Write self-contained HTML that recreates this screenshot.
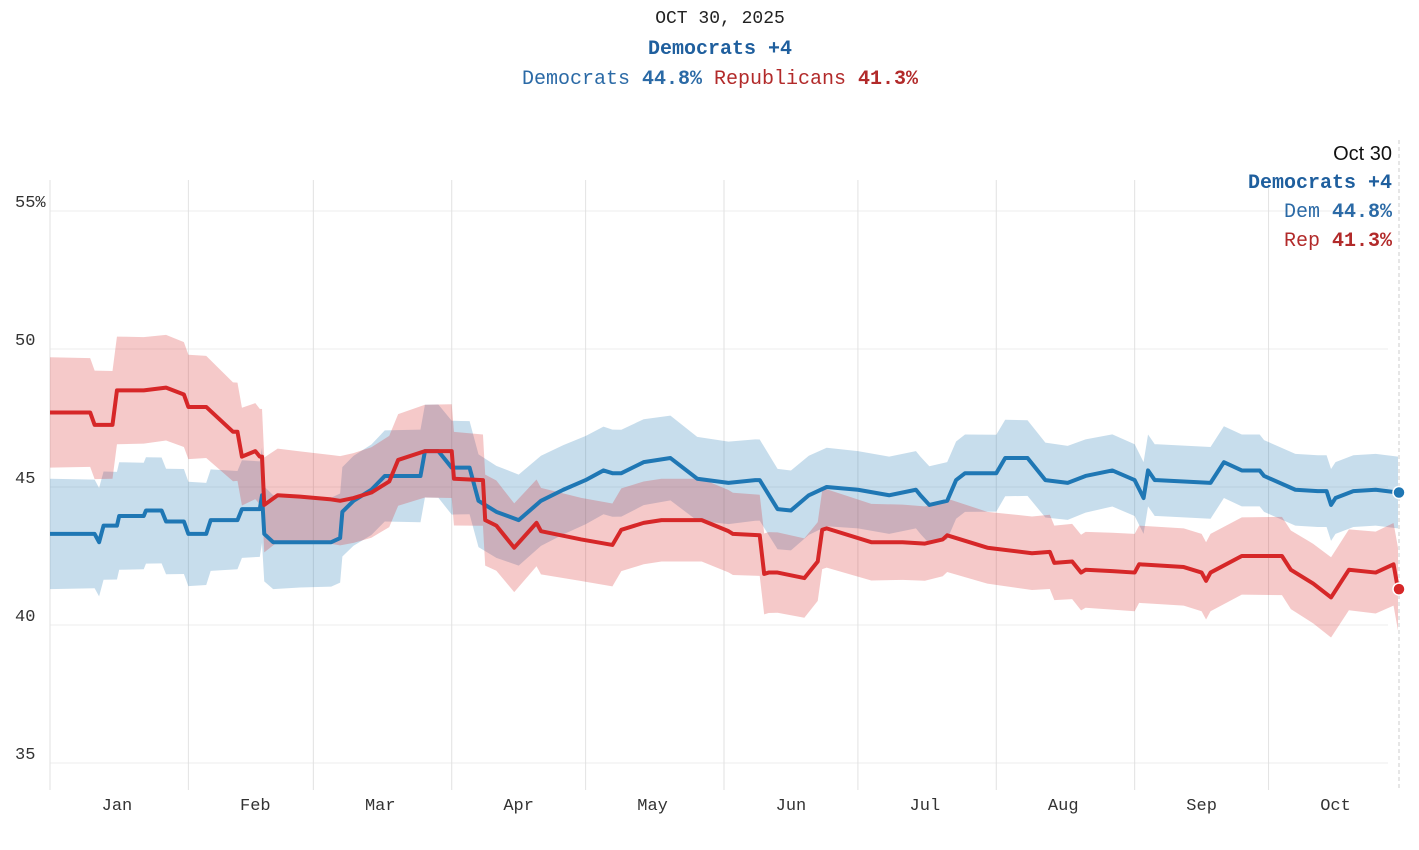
<!DOCTYPE html>
<html><head><meta charset="utf-8">
<style>
html,body{margin:0;padding:0;background:#fff;}
body{width:1419px;height:850px;overflow:hidden;position:relative;font-family:"Liberation Mono",monospace;}
.hdr{position:absolute;left:0;width:1440px;text-align:center;}
</style></head>
<body>
<div class="hdr" style="top:9px;font-size:18px;color:#222;">OCT 30, 2025</div>
<div class="hdr" style="top:38px;font-size:20px;font-weight:bold;color:#1f5f9e;">Democrats +4</div>
<div class="hdr" style="top:68px;font-size:20px;"><span style="color:#2b6aa6">Democrats <b>44.8%</b></span> <span style="color:#b22a2a">Republicans <b>41.3%</b></span></div>
<svg id="chart" width="1419" height="850" style="position:absolute;left:0;top:0;" xmlns="http://www.w3.org/2000/svg"></svg>
<div style="position:absolute;right:27px;top:140px;text-align:right;font-size:20px;line-height:29px;">
<div style="font-family:'Liberation Sans',sans-serif;color:#111;">Oct 30</div>
<div style="color:#1f5f9e;font-weight:bold;">Democrats +4</div>
<div style="color:#2b6aa6;">Dem <b>44.8%</b></div>
<div style="color:#b22a2a;">Rep <b>41.3%</b></div>
</div>
<script>
const monthLabels=["Jan","Feb","Mar","Apr","May","Jun","Jul","Aug","Sep","Oct"];
const monthStarts=[0,31,59,90,120,151,181,212,243,273];
const yTicks=[35,40,45,50,55];
const demDays=[0,10,11,12,15,15.5,21,21.5,25,26,30,31,35,36,42,43,47,47.5,48,50,56,63,65,65.5,68,72,75,79,83,84,87,90,90.5,92,94,96,100,105,110,115,120,124,126,128,133,139,145,152,158,159,163,166,170,174,181,188,194,195,197,201,203,205,212,214,219,223,228,232,238,243,245,246,247.5,248,260,263,267,271,272,279,284,286,287,288,292,297,302];
const demVals=[43.3,43.3,43.0,43.6,43.6,43.95,43.95,44.15,44.15,43.75,43.75,43.3,43.3,43.8,43.8,44.2,44.2,44.7,43.3,43.0,43.0,43.0,43.15,44.1,44.5,44.9,45.4,45.4,45.4,46.3,46.3,45.7,45.7,45.7,45.7,44.5,44.1,43.8,44.5,44.9,45.25,45.6,45.5,45.5,45.9,46.05,45.3,45.15,45.25,45.25,44.2,44.15,44.7,45.0,44.9,44.7,44.9,44.7,44.35,44.5,45.25,45.5,45.5,46.05,46.05,45.25,45.15,45.4,45.6,45.25,44.6,45.6,45.25,45.25,45.15,45.9,45.6,45.6,45.4,44.9,44.85,44.85,44.35,44.6,44.85,44.9,44.8];
const repDays=[0,9,10,14,15,21,26,30,31,35,41,42,43,46,47,47.5,48,51,56,63,65,68,72,76,78,84,90,90.5,97,97.5,100,102,104,109,110,119,126,128,133,137,146,152,153,159,160,161,163,169,172,173,174,184,191,196,200,201,210,220,224,225,229,231,232,238,243,244,254,258,259,260,267,276,278,282,283,287,289,291,297,301,302];
const repVals=[47.7,47.7,47.25,47.25,48.5,48.5,48.6,48.35,47.9,47.9,47.0,47.0,46.1,46.3,46.1,46.1,44.35,44.7,44.65,44.55,44.5,44.6,44.8,45.2,45.98,46.3,46.3,45.3,45.25,43.8,43.6,43.2,42.8,43.7,43.4,43.1,42.9,43.45,43.7,43.8,43.8,43.4,43.3,43.25,41.85,41.9,41.9,41.7,42.3,43.45,43.5,43.0,43.0,42.95,43.1,43.25,42.8,42.6,42.65,42.25,42.3,41.9,42.0,41.95,41.9,42.2,42.1,41.9,41.6,41.9,42.5,42.5,42.0,41.6,41.5,41.0,41.5,42.0,41.9,42.2,41.3];
const spreadDays=[0,30,60,90,120,150,180,210,240,270,302];
const demSpread=[2.0,1.9,1.6,1.7,1.6,1.5,1.4,1.4,1.3,1.3,1.3];
const repSpread=[2.0,1.9,1.6,1.7,1.5,1.5,1.4,1.3,1.4,1.4,1.5];

const svg=document.getElementById('chart');
const NS='http://www.w3.org/2000/svg';
const X0=50,X1=1398,DMAX=302;
const x=d=>X0+(X1-X0)*d/DMAX;
const y=v=>487-(v-45)*27.6;
function mk(tag,attrs){const e=document.createElementNS(NS,tag);for(const k in attrs)e.setAttribute(k,attrs[k]);svg.appendChild(e);return e;}
function spread(arr,d){for(let i=0;i<spreadDays.length-1;i++){if(d<=spreadDays[i+1]){const t=(d-spreadDays[i])/(spreadDays[i+1]-spreadDays[i]);return arr[i]+t*(arr[i+1]-arr[i]);}}return arr[arr.length-1];}

yTicks.forEach(v=>{
  const l=mk('line',{x1:X0,x2:1388,y1:y(v),y2:y(v),stroke:'#ececec','stroke-width':1});
  
  
  const t=mk('text',{x:15,y:y(v)-4,'font-size':17,fill:'#333','font-family':'Liberation Mono, monospace'});
  t.textContent=v===55?'55%':String(v);
  
  
});
monthStarts.forEach((d,i)=>{
  const l=mk('line',{x1:x(d),x2:x(d),y1:180,y2:790,stroke:'#e2e2e2','stroke-width':1});
  
  
  const t=mk('text',{x:x(d+15),y:810,'font-size':17,fill:'#333','text-anchor':'middle','font-family':'Liberation Mono, monospace'});
  t.textContent=monthLabels[i];
  
  
});
function band(days,vals,sp,color,name){
  let up=[],dn=[];
  days.forEach((d,i)=>{const s=spread(sp,d);up.push(x(d)+','+y(vals[i]+s));dn.unshift(x(d)+','+y(vals[i]-s));});
  const p=mk('polygon',{points:up.concat(dn).join(' '),fill:color});
  
  
}
function line(days,vals,color,name){
  const p=mk('polyline',{points:days.map((d,i)=>x(d)+','+y(vals[i])).join(' '),fill:'none',stroke:color,'stroke-width':4,'stroke-linejoin':'round'});
  
  
}
band(demDays,demVals,demSpread,'rgba(31,119,180,0.25)','dem-band');
band(repDays,repVals,repSpread,'rgba(214,39,40,0.25)','rep-band');
line(demDays,demVals,'#1f77b4','dem-line');
line(repDays,repVals,'#d62728','rep-line');
const hl=mk('line',{x1:X1+1,x2:X1+1,y1:140,y2:790,stroke:'#ccc','stroke-dasharray':'4,3'});


const dd=mk('circle',{cx:1399,cy:y(demVals[demVals.length-1]),r:6,fill:'#1f77b4',stroke:'#fff','stroke-width':1.5});


const rd=mk('circle',{cx:1399,cy:y(repVals[repVals.length-1]),r:6,fill:'#d62728',stroke:'#fff','stroke-width':1.5});


</script>
</body></html>
